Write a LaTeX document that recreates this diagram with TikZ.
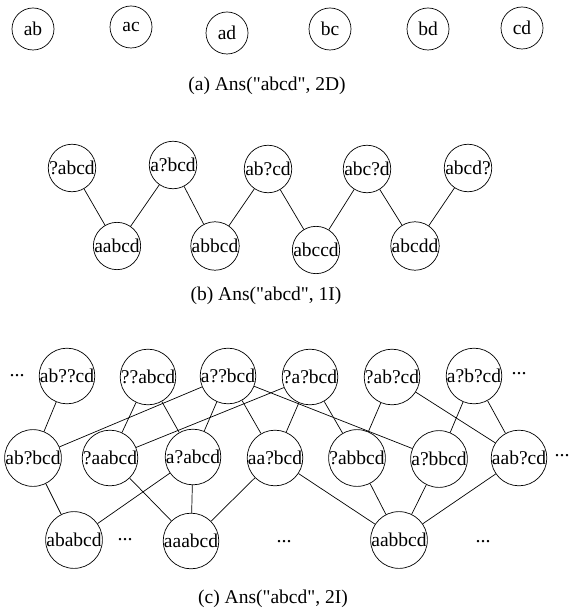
\documentclass[tikz,border=0pt]{standalone}
\usepackage{fontspec}
\setmainfont{Liberation Serif}
\newcommand{\qq}{\XeTeXglyph\XeTeXcharglyph"22\relax}
\begin{document}
\begin{tikzpicture}[x=1pt,y=-1pt,
  st/.style={circle,draw,line width=0.7pt,inner sep=0pt,minimum size=44pt,font=\fontsize{19.5}{21}\selectfont},
  sta/.style={st,minimum size=42pt},
  stb/.style={st,minimum size=45pt},
  dotsnode/.style={inner sep=0pt,font=\fontsize{20}{22}\selectfont},
  captext/.style={inner sep=0pt,font=\fontsize{19.5}{22}\selectfont},
  edge/.style={line width=0.7pt}]
\useasboundingbox (0,0) rectangle (575,612);
% panel (a)
\node[sta] (ab) at (33,29) {ab};
\node[sta] (ac) at (131,27) {ac};
\node[sta] (ad) at (227,33) {ad};
\node[sta] (bc) at (330,29) {bc};
\node[sta] (bd) at (428,29) {bd};
\node[sta] (cd) at (522,28) {cd};
\node[captext] (capa) at (267,86) {(a) Ans(\qq abcd\qq, 2D)};
% panel (b)
\node[stb] (b1) at (72,168) {?abcd};
\node[stb] (b2) at (173,165) {a?bcd};
\node[stb] (b3) at (268,169) {ab?cd};
\node[stb] (b4) at (367,169) {abc?d};
\node[stb] (b5) at (468,168) {abcd?};
\node[stb] (c1) at (117,246) {aabcd};
\node[stb] (c2) at (215,246) {abbcd};
\node[stb] (c3) at (316,250) {abccd};
\node[stb] (c4) at (415,246) {abcdd};
\draw[edge] (b1) -- (c1) -- (b2) -- (c2) -- (b3) -- (c3) -- (b4) -- (c4) -- (b5);
\node[captext] (capb) at (266,296) {(b) Ans(\qq abcd\qq, 1I)};
% panel (c) top row
\node[dotsnode] (tl) at (17,376) {...};
\node[st] (t1) at (67,376) {ab??cd};
\node[st] (t2) at (148,377) {??abcd};
\node[st] (t3) at (228,376) {a??bcd};
\node[st] (t4) at (310,377) {?a?bcd};
\node[st] (t5) at (392,377) {?ab?cd};
\node[st] (t6) at (474,376) {a?b?cd};
\node[dotsnode] (tr) at (519,374) {...};
% middle row
\node[st] (m1) at (33,458) {ab?bcd};
\node[st] (m2) at (110,458) {?aabcd};
\node[st] (m3) at (193,457) {a?abcd};
\node[st] (m4) at (275,458) {aa?bcd};
\node[st] (m5) at (357,458) {?abbcd};
\node[st] (m6) at (439,459) {a?bbcd};
\node[st] (m7) at (519,458) {aab?cd};
\node[dotsnode] (mr) at (562,456) {...};
% bottom row
\node[st] (u1) at (74,540) {ababcd};
\node[dotsnode] (ud1) at (125,540) {...};
\node[st] (u2) at (191,541) {aaabcd};
\node[dotsnode] (ud2) at (284,542) {...};
\node[st] (u3) at (399,540) {aabbcd};
\node[dotsnode] (ud3) at (483,542) {...};
% edges top-middle
\draw[edge] (t1) -- (m1);
\draw[edge] (t3) -- (m1);
\draw[edge] (t2) -- (m2);
\draw[edge] (t4) -- (m2);
\draw[edge] (t2) -- (m3);
\draw[edge] (t3) -- (m3);
\draw[edge] (t3) -- (m4);
\draw[edge] (t4) -- (m4);
\draw[edge] (t3) -- (m6);
\draw[edge] (t4) -- (m5);
\draw[edge] (t5) -- (m5);
\draw[edge] (t5) -- (m7);
\draw[edge] (t6) -- (m6);
\draw[edge] (t6) -- (m7);
% edges middle-bottom
\draw[edge] (m1) -- (u1);
\draw[edge] (m3) -- (u1);
\draw[edge] (m2) -- (u2);
\draw[edge] (m3) -- (u2);
\draw[edge] (m4) -- (u2);
\draw[edge] (m4) -- (u3);
\draw[edge] (m5) -- (u3);
\draw[edge] (m6) -- (u3);
\draw[edge] (m7) -- (u3);
\node[captext] (capc) at (273,599) {(c) Ans(\qq abcd\qq, 2I)};
\end{tikzpicture}
\end{document}
